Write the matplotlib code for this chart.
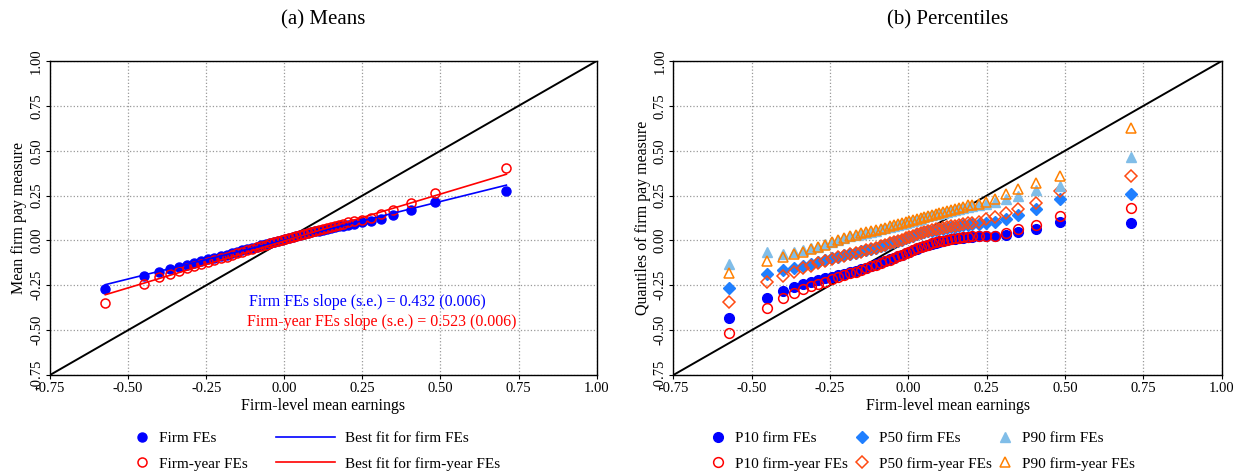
import numpy as np
import matplotlib
matplotlib.use("Agg")
import matplotlib.pyplot as plt
from matplotlib.ticker import FormatStrFormatter

plt.rcParams['font.family'] = ['Liberation Serif', 'DejaVu Serif']
plt.rcParams['axes.unicode_minus'] = False

# firm-level mean earnings (bin means, shared by both panels)
x_bins = [-0.573, -0.450, -0.400, -0.366, -0.338, -0.312, -0.289, -0.266, -0.245, -0.224,
          -0.204, -0.185, -0.167, -0.150, -0.134, -0.118, -0.103, -0.088, -0.074, -0.060,
          -0.047, -0.034, -0.021, -0.009, 0.003, 0.015, 0.027, 0.039, 0.051, 0.063,
          0.075, 0.087, 0.099, 0.111, 0.123, 0.136, 0.149, 0.162, 0.175, 0.189,
          0.204, 0.224, 0.249, 0.277, 0.310, 0.349, 0.406, 0.484, 0.711]

# panel (a): means
mean_firm = [-0.273, -0.199, -0.175, -0.160, -0.147, -0.135, -0.125, -0.115, -0.106, -0.097,
             -0.088, -0.079, -0.071, -0.063, -0.056, -0.049, -0.042, -0.035, -0.028, -0.021,
             -0.015, -0.008, -0.002, 0.004, 0.010, 0.015, 0.020, 0.025, 0.030, 0.035,
             0.040, 0.045, 0.050, 0.054, 0.059, 0.064, 0.069, 0.074, 0.078, 0.083,
             0.088, 0.094, 0.100, 0.109, 0.122, 0.141, 0.169, 0.212, 0.274]
mean_firmyear = [-0.347, -0.243, -0.206, -0.188, -0.169, -0.156, -0.144, -0.132, -0.121, -0.110,
                 -0.100, -0.090, -0.081, -0.072, -0.063, -0.055, -0.047, -0.039, -0.031, -0.024,
                 -0.017, -0.010, -0.003, 0.003, 0.008, 0.014, 0.020, 0.026, 0.031, 0.037,
                 0.042, 0.047, 0.052, 0.058, 0.064, 0.070, 0.076, 0.082, 0.088, 0.094,
                 0.100, 0.108, 0.116, 0.124, 0.146, 0.169, 0.206, 0.262, 0.401]
fit_slope = [0.432, 0.523]
fit_intercept = [0.001, -0.003]
fit_se = [0.006, 0.006]

# panel (b): percentiles
p10_firm = [-0.433, -0.322, -0.281, -0.257, -0.242, -0.229, -0.220, -0.212, -0.203, -0.194,
            -0.186, -0.177, -0.168, -0.160, -0.151, -0.141, -0.132, -0.123, -0.114, -0.105,
            -0.096, -0.087, -0.079, -0.070, -0.062, -0.054, -0.046, -0.039, -0.032, -0.025,
            -0.019, -0.013, -0.008, -0.003, 0.002, 0.006, 0.010, 0.013, 0.016, 0.019,
            0.021, 0.023, 0.024, 0.025, 0.031, 0.046, 0.062, 0.101, 0.096]
p10_firmyear = [-0.517, -0.378, -0.322, -0.291, -0.272, -0.253, -0.244, -0.229, -0.216, -0.205,
                -0.194, -0.184, -0.174, -0.165, -0.155, -0.145, -0.135, -0.126, -0.116, -0.107,
                -0.098, -0.089, -0.080, -0.071, -0.062, -0.053, -0.045, -0.037, -0.030, -0.023,
                -0.017, -0.011, -0.006, -0.001, 0.004, 0.008, 0.012, 0.015, 0.018, 0.021,
                0.023, 0.025, 0.026, 0.027, 0.040, 0.062, 0.086, 0.136, 0.179]
p50_firm = [-0.266, -0.188, -0.164, -0.151, -0.142, -0.131, -0.118, -0.109, -0.099, -0.091,
            -0.083, -0.075, -0.068, -0.061, -0.054, -0.047, -0.040, -0.032, -0.024, -0.016,
            -0.009, -0.002, 0.005, 0.013, 0.021, 0.027, 0.033, 0.039, 0.045, 0.050,
            0.055, 0.060, 0.064, 0.065, 0.069, 0.073, 0.077, 0.081, 0.084, 0.087,
            0.090, 0.092, 0.096, 0.103, 0.118, 0.142, 0.173, 0.229, 0.257]
p50_firmyear = [-0.341, -0.229, -0.196, -0.174, -0.155, -0.140, -0.127, -0.113, -0.102, -0.093,
                -0.085, -0.077, -0.069, -0.062, -0.055, -0.047, -0.040, -0.032, -0.024, -0.016,
                -0.009, -0.002, 0.005, 0.013, 0.021, 0.027, 0.033, 0.039, 0.045, 0.051,
                0.056, 0.061, 0.066, 0.070, 0.074, 0.078, 0.083, 0.087, 0.091, 0.095,
                0.099, 0.105, 0.118, 0.133, 0.151, 0.173, 0.210, 0.277, 0.359]
p90_firm = [-0.133, -0.062, -0.075, -0.062, -0.053, -0.044, -0.034, -0.021, -0.009, 0.003,
            0.014, 0.022, 0.029, 0.036, 0.042, 0.048, 0.055, 0.062, 0.068, 0.075,
            0.081, 0.087, 0.092, 0.098, 0.104, 0.110, 0.116, 0.122, 0.128, 0.134,
            0.140, 0.145, 0.150, 0.155, 0.160, 0.165, 0.171, 0.176, 0.181, 0.187,
            0.193, 0.198, 0.205, 0.214, 0.230, 0.248, 0.281, 0.303, 0.463]
p90_firmyear = [-0.183, -0.114, -0.094, -0.075, -0.062, -0.049, -0.038, -0.024, -0.010, 0.003,
                0.015, 0.024, 0.032, 0.039, 0.045, 0.051, 0.058, 0.065, 0.071, 0.078,
                0.084, 0.090, 0.096, 0.102, 0.108, 0.114, 0.120, 0.126, 0.132, 0.138,
                0.144, 0.149, 0.155, 0.160, 0.165, 0.171, 0.177, 0.183, 0.189, 0.195,
                0.199, 0.205, 0.216, 0.229, 0.257, 0.285, 0.318, 0.359, 0.625]

ticks = [-0.75, -0.50, -0.25, 0.00, 0.25, 0.50, 0.75, 1.00]

BLUE = '#0000ff'
RED = '#ff0000'
MIDBLUE = '#1f7fff'
ORANGERED = '#ff4a12'
LIGHTBLUE = '#80bde8'
ORANGE = '#ff8000'

fig = plt.figure(figsize=(12.42, 4.74), dpi=100)
axL = fig.add_axes([0.0403, 0.2089, 0.4401, 0.6624])
axR = fig.add_axes([0.5422, 0.2089, 0.4415, 0.6624])


def style_axes(ax, ylabel, title):
    ax.set_xlim(-0.75, 1.0)
    ax.set_ylim(-0.75, 1.0)
    ax.set_xticks(ticks)
    ax.set_yticks(ticks)
    ax.xaxis.set_major_formatter(FormatStrFormatter('%.2f'))
    ax.yaxis.set_major_formatter(FormatStrFormatter('%.2f'))
    ax.tick_params(axis='both', labelsize=10.5, length=3, width=0.8, direction='out', pad=2)
    for lab in ax.get_yticklabels():
        lab.set_rotation(90)
        lab.set_va('center')
    ax.grid(True, color='#999999', linestyle=':', linewidth=0.9)
    ax.set_axisbelow(True)
    for s in ax.spines.values():
        s.set_linewidth(1.0)
        s.set_color('black')
    ax.plot([-0.75, 1.0], [-0.75, 1.0], color='black', lw=1.4, zorder=2)
    ax.set_xlabel('Firm-level mean earnings', fontsize=11.5, labelpad=2)
    ax.set_ylabel(ylabel, fontsize=11.5, labelpad=2)
    ax.set_title(title, fontsize=15, pad=26)


style_axes(axL, 'Mean firm pay measure', '(a) Means')
style_axes(axR, 'Quantiles of firm pay measure', '(b) Percentiles')

# panel (a)
xb = np.array(x_bins)
h1, = axL.plot(xb, mean_firm, 'o', color=BLUE, ms=6.5, ls='none', zorder=3, label='Firm FEs')
h2, = axL.plot(xb, mean_firmyear, 'o', mfc='none', mec=RED, mew=1.1, ms=6.5, ls='none',
               zorder=4, label='Firm-year FEs')
xf = np.array([xb.min(), xb.max()])
h3, = axL.plot(xf, fit_intercept[0] + fit_slope[0] * xf, color=BLUE, lw=1.2, zorder=5,
               label='Best fit for firm FEs')
h4, = axL.plot(xf, fit_intercept[1] + fit_slope[1] * xf, color=RED, lw=1.2, zorder=5,
               label='Best fit for firm-year FEs')
axL.text(-0.113, -0.343, f'Firm FEs slope (s.e.) = {fit_slope[0]:.3f} ({fit_se[0]:.3f})',
         color=BLUE, fontsize=11.5, va='center', ha='left')
axL.text(-0.118, -0.455, f'Firm-year FEs slope (s.e.) = {fit_slope[1]:.3f} ({fit_se[1]:.3f})',
         color=RED, fontsize=11.5, va='center', ha='left')

leg_top = 1 - 418 / 474
fig.legend(handles=[h1, h2], loc='upper left', bbox_to_anchor=(121 / 1242, leg_top),
           frameon=False, fontsize=11, handlelength=1.0, handletextpad=0.6,
           labelspacing=0.75)
fig.legend(handles=[h3, h4], loc='upper left', bbox_to_anchor=(262 / 1242, leg_top),
           frameon=False, fontsize=11, handlelength=3.9, handletextpad=0.65,
           labelspacing=0.75)

# panel (b)
series_b = [
    (p10_firm, 'o', dict(color=BLUE), 'P10 firm FEs'),
    (p10_firmyear, 'o', dict(mfc='none', mec=RED, mew=1.1), 'P10 firm-year FEs'),
    (p50_firm, 'D', dict(color=MIDBLUE), 'P50 firm FEs'),
    (p50_firmyear, 'D', dict(mfc='none', mec=ORANGERED, mew=1.1), 'P50 firm-year FEs'),
    (p90_firm, '^', dict(color=LIGHTBLUE), 'P90 firm FEs'),
    (p90_firmyear, '^', dict(mfc='none', mec=ORANGE, mew=1.1), 'P90 firm-year FEs'),
]
handles_b = []
for i, (vals, mk, kw, lab) in enumerate(series_b):
    ms = 6.2 if mk == 'D' else 7.0
    h, = axR.plot(xb, vals, mk, ls='none', ms=ms, zorder=3 + i, label=lab, **kw)
    handles_b.append(h)

fig.legend(handles=handles_b, loc='upper left', bbox_to_anchor=(697 / 1242, leg_top),
           ncol=3, frameon=False, fontsize=11, handlelength=1.0, handletextpad=0.6,
           labelspacing=0.75, columnspacing=0.4)

fig.savefig('out.png', dpi=100)
